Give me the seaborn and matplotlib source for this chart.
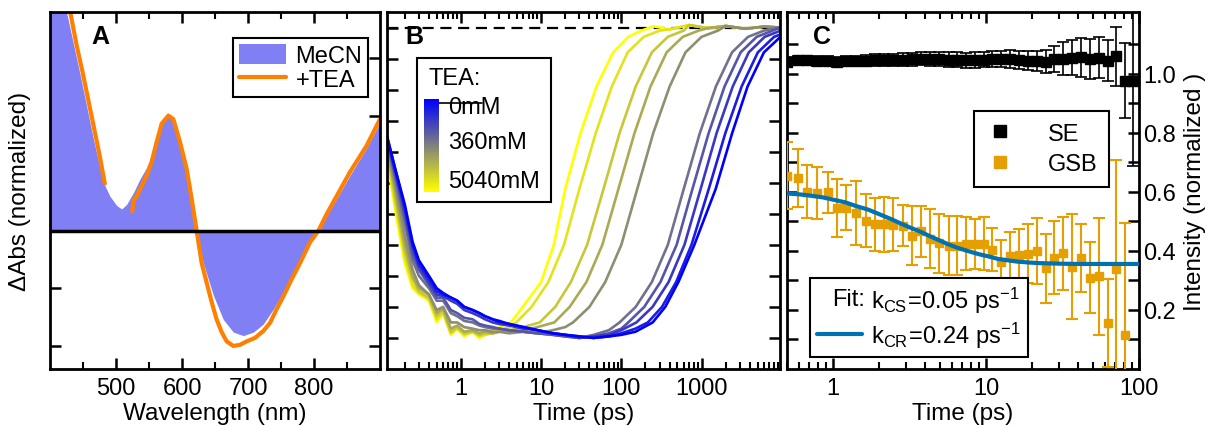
import numpy as np
import pandas as pd
import matplotlib
matplotlib.use("Agg")
import matplotlib.pyplot as plt
import seaborn as sns
from matplotlib.colors import LinearSegmentedColormap
from matplotlib.legend_handler import HandlerBase
from matplotlib.text import Text
from matplotlib.lines import Line2D
from matplotlib.patches import Patch, Rectangle
from matplotlib.ticker import LogLocator, NullFormatter, FixedLocator

# ---------------- Panel A data ----------------
wl_mecn = [400, 410, 425, 445.5, 465.7, 480.8, 490.9, 501, 508.6, 516.2, 526.3, 536.4, 546.5, 554,
           561.6, 569.2, 576.8, 584.3, 591.9, 602, 612.1, 622.2, 632.3, 647.5, 662.6, 677.8, 692.9,
           708.1, 723.2, 738.4, 758.6, 778.8, 806.6, 829.3, 854.5, 879.8, 900]
abs_mecn = [2.3, 2.15, 1.90, 1.36, 0.80, 0.42, 0.30, 0.22, 0.19, 0.23, 0.33, 0.45, 0.55, 0.65,
            0.83, 0.94, 1.00, 0.97, 0.86, 0.62, 0.36, 0.0, -0.28, -0.56, -0.77, -0.88, -0.91,
            -0.88, -0.81, -0.68, -0.48, -0.25, 0.0, 0.23, 0.48, 0.72, 0.94]
wl_tea_1 = [430, 440, 450, 460, 470, 476, 483]
abs_tea_1 = [1.92, 1.62, 1.36, 1.08, 0.80, 0.63, 0.41]
wl_tea_2 = [524.7, 526.3, 531.3, 538.9, 546.5, 554, 561.6, 569.2, 579.3, 586.9, 597, 607, 614.6,
            622.2, 629.8, 637.4, 645, 652.5, 660.1, 667.7, 677.8, 687.9, 698, 710.6, 723.2, 733.3,
            743.4, 753.5, 763.6, 778.8, 793.9, 806.6, 819.2, 829.3, 854.5, 879.8, 900]
abs_tea_2 = [0.17, 0.26, 0.30, 0.39, 0.48, 0.60, 0.77, 0.93, 1.00, 0.97, 0.77, 0.54, 0.28,
             0.0, -0.28, -0.45, -0.62, -0.77, -0.88, -0.96, -1.00, -0.99, -0.96, -0.93, -0.87, -0.80,
             -0.68, -0.57, -0.45, -0.28, -0.10, 0.0, 0.145, 0.25, 0.51, 0.74, 0.97]

# ---------------- Panel B data ----------------
tea_labels = ["0mM", "360mM", "5040mM"]
b_pre_t = [0.12, 0.15, 0.2, 0.25, 0.3, 0.4, 0.5, 0.6, 0.75, 0.9, 1.1, 1.4, 1.7, 2.0, 2.5, 3.0,
           4, 6, 9, 14, 20, 30, 45, 70, 100, 150]
b_pre_v = [
    [-0.42, -0.58, -0.76, -0.84, -0.86, -0.88, -0.95, -0.92, -0.99, -0.97, -0.995, -0.98, -1.0, -0.99, -0.98, -0.965],
    [-0.41, -0.56, -0.74, -0.83, -0.855, -0.875, -0.94, -0.92, -0.985, -0.97, -0.99, -0.98, -0.995, -0.99, -0.985, -0.975, -0.965],
    [-0.40, -0.54, -0.72, -0.81, -0.85, -0.87, -0.93, -0.91, -0.98, -0.965, -0.985, -0.98, -0.99, -0.985, -0.985, -0.98, -0.975, -0.965],
    [-0.39, -0.52, -0.70, -0.80, -0.84, -0.86, -0.92, -0.905, -0.97, -0.96, -0.98, -0.975, -0.985, -0.98, -0.985, -0.98, -0.98, -0.975, -0.965],
    [-0.38, -0.50, -0.67, -0.78, -0.83, -0.86, -0.91, -0.90, -0.95, -0.95, -0.965, -0.97, -0.975, -0.975, -0.98, -0.98, -0.985, -0.98, -0.985, -0.975, -0.965],
    [-0.37, -0.48, -0.63, -0.75, -0.80, -0.84, -0.88, -0.88, -0.92, -0.93, -0.945, -0.95, -0.96, -0.965, -0.97, -0.97, -0.975, -0.98, -0.985, -0.99, -0.995, -1.0, -0.99, -0.975],
    [-0.36, -0.47, -0.61, -0.73, -0.78, -0.83, -0.87, -0.87, -0.91, -0.92, -0.935, -0.94, -0.955, -0.96, -0.965, -0.97, -0.975, -0.98, -0.985, -0.99, -0.995, -1.0, -0.995, -0.985, -0.97],
    [-0.36, -0.46, -0.59, -0.71, -0.77, -0.82, -0.86, -0.865, -0.88, -0.89, -0.91, -0.92, -0.93, -0.94, -0.95, -0.955, -0.96, -0.97, -0.975, -0.985, -0.99, -1.0, -0.995, -0.99, -0.975],
    [-0.35, -0.45, -0.58, -0.70, -0.76, -0.81, -0.85, -0.86, -0.87, -0.88, -0.90, -0.91, -0.92, -0.93, -0.94, -0.95, -0.955, -0.965, -0.975, -0.985, -0.99, -0.995, -1.0, -0.995, -0.985, -0.97],
    [-0.35, -0.45, -0.57, -0.69, -0.75, -0.80, -0.84, -0.855, -0.87, -0.88, -0.90, -0.91, -0.92, -0.93, -0.94, -0.945, -0.955, -0.965, -0.975, -0.985, -0.99, -0.995, -1.0, -0.995, -0.99, -0.98],
]
b_rise_levels = [-0.95, -0.90, -0.82, -0.70, -0.52, -0.34, -0.19, -0.08, -0.03, -0.01]
b_rise_t = [
    [4.2, 5.9, 10, 14.4, 20, 31, 49, 79, 122, 178],
    [4.9, 7.6, 12.3, 19.3, 30, 48, 76, 120, 190, 300],
    [9.6, 15, 23.5, 37.5, 60, 95, 151, 240, 380, 600],
    [14.6, 22.7, 36.7, 58, 92, 146, 231, 367, 583, 918],
    [25, 40, 63, 100, 158, 250, 400, 630, 1000, 1600],
    [95, 151, 240, 380, 600, 952, 1509, 2397, 3800, 6000],
    [122, 193, 307, 489, 770, 1227, 1934, 3068, 4867, 7700],
    [154, 245, 388, 612, 974, 1540, 2448, 3876, 6120, 9690],
    [214, 321, 482, 749, 1230, 1980, 3157, 5029, 8025, 12840],
    [246, 353, 514, 813, 1500, 2408, 3745, 5992, 9630, 14980],
]
b_tail_t = [250, 400, 700, 1200, 2000, 3500, 6000, 9500]
b_tail_v = [0.004, -0.006, 0.008, -0.002, 0.005, -0.004, 0.003, 0.0]

# ---------------- Panel C data ----------------
c_t = [0.499, 0.589, 0.68, 0.79, 0.92, 1.06, 1.22, 1.41, 1.64, 1.88, 2.15, 2.48, 2.85, 3.30, 3.76,
       4.31, 4.96, 5.69, 6.44, 7.38, 8.5, 9.64, 11.0, 12.5, 14.4, 16.4, 18.8, 21.4, 24.6, 28.0,
       32.0, 36.6, 41.8, 47.8, 54.7, 62.5, 71.0, 81.4]
gsb_v = [0.655, 0.647, 0.601, 0.597, 0.599, 0.545, 0.546, 0.529, 0.503, 0.490, 0.490, 0.489,
         0.486, 0.452, 0.467, 0.441, 0.426, 0.418, 0.418, 0.424, 0.424, 0.425, 0.405, 0.364,
         0.384, 0.385, 0.390, 0.400, 0.341, 0.377, 0.392, 0.346, 0.377, 0.310, 0.314, 0.156,
         0.339, 0.115]
gsb_err = [0.113, 0.097, 0.090, 0.089, 0.070, 0.099, 0.076, 0.108, 0.090, 0.090, 0.093, 0.089,
           0.069, 0.100, 0.086, 0.100, 0.100, 0.100, 0.100, 0.090, 0.085, 0.090, 0.073, 0.072,
           0.082, 0.090, 0.100, 0.113, 0.116, 0.123, 0.123, 0.178, 0.115, 0.120, 0.198, 0.150,
           0.370, 0.380]
se_t = [0.499, 0.589, 0.68, 0.79, 0.92, 1.06, 1.22, 1.41, 1.64, 1.88, 2.15, 2.48, 2.85, 3.30, 3.76,
        4.31, 4.96, 5.69, 6.44, 7.38, 8.5, 9.64, 11.0, 12.5, 14.4, 16.4, 18.8, 21.4, 24.6, 28.0,
        32.0, 36.6, 41.8, 47.8, 54.7, 62.5, 71.0, 81.4, 92.0]
se_v = [1.042, 1.047, 1.047, 1.044, 1.045, 1.042, 1.043, 1.044, 1.045, 1.047, 1.048, 1.047, 1.049,
        1.050, 1.051, 1.050, 1.050, 1.049, 1.048, 1.046, 1.047, 1.048, 1.050, 1.051, 1.050, 1.048,
        1.045, 1.044, 1.042, 1.050, 1.052, 1.055, 1.056, 1.052, 1.055, 1.045, 1.060, 0.977, 0.977]
se_err = [0.015, 0.015, 0.015, 0.016, 0.016, 0.017, 0.017, 0.018, 0.018, 0.019, 0.020, 0.020, 0.021,
          0.022, 0.022, 0.023, 0.024, 0.024, 0.025, 0.025, 0.026, 0.026, 0.027, 0.028, 0.030, 0.030,
          0.032, 0.035, 0.040, 0.045, 0.055, 0.060, 0.065, 0.068, 0.070, 0.070, 0.100, 0.127, 0.290]
fit_t = [0.5, 0.6, 0.7, 0.85, 1.0, 1.2, 1.4, 1.7, 2.0, 2.4, 2.8, 3.2, 3.7, 4.3, 5.0, 5.7, 6.5, 7.7,
         9.0, 10.5, 12, 14, 16, 19, 22, 26, 30, 40, 50, 70, 100]
fit_v = [0.595, 0.592, 0.588, 0.582, 0.574, 0.565, 0.553, 0.540, 0.525, 0.508, 0.492, 0.479,
         0.466, 0.450, 0.435, 0.422, 0.411, 0.399, 0.389, 0.381, 0.373, 0.368, 0.364, 0.361,
         0.359, 0.358, 0.357, 0.356, 0.356, 0.356, 0.356]

# ---------------- style ----------------
sns.set_theme(style="ticks")
plt.rcParams["font.family"] = ["Liberation Sans", "DejaVu Sans"]
plt.rcParams["mathtext.fontset"] = "custom"
plt.rcParams["mathtext.rm"] = "Liberation Sans"
plt.rcParams["mathtext.it"] = "Liberation Sans:italic"
plt.rcParams["axes.linewidth"] = 2.0
plt.rcParams["axes.edgecolor"] = "black"
for k in ["text.color", "axes.labelcolor", "xtick.color", "ytick.color",
          "xtick.labelcolor", "ytick.labelcolor"]:
    plt.rcParams[k] = "black"

TICK_FS = 17
LAB_FS = 17.5
LEG_FS = 17

fig = plt.figure(figsize=(12.13, 4.27), dpi=100)
W, H = 1213.0, 427.0
def box(l, r, t, b):
    return [l / W, (H - b) / H, (r - l) / W, (b - t) / H]

axA = fig.add_axes(box(50, 380, 13, 370))
axB = fig.add_axes(box(387, 780, 13, 370))
axC = fig.add_axes(box(787, 1139, 13, 370))

def style_ticks(ax):
    ax.tick_params(which="both", direction="in", top=True, right=True, color="black",
                   labelsize=TICK_FS, labelcolor="black", pad=6)
    ax.tick_params(which="major", length=8, width=1.8)
    ax.tick_params(which="minor", length=5, width=1.5)

# ---------------- Panel A ----------------
fill_col = "#8080f4"
orange = "#ff8000"
axA.fill_between(wl_mecn, abs_mecn, 0, color=fill_col, lw=0, label="MeCN")
dfA1 = pd.DataFrame({"wl": wl_tea_1, "a": abs_tea_1})
dfA2 = pd.DataFrame({"wl": wl_tea_2, "a": abs_tea_2})
sns.lineplot(data=dfA1, x="wl", y="a", ax=axA, color=orange, lw=3, sort=False, estimator=None)
sns.lineplot(data=dfA2, x="wl", y="a", ax=axA, color=orange, lw=3, sort=False, estimator=None)
axA.axhline(0, color="black", lw=2.5, zorder=3)
axA.set_xlim(400, 900)
axA.set_ylim(-1.2, 1.9)
axA.set_xticks([500, 600, 700, 800])
axA.xaxis.set_minor_locator(FixedLocator([450, 550, 650, 750, 850]))
axA.set_yticks([-1.0, -0.5, 0, 0.5, 1.0, 1.5])
axA.set_yticklabels([])
style_ticks(axA)
axA.set_xlabel("Wavelength (nm)", fontsize=LAB_FS, labelpad=2)
axA.set_ylabel("ΔAbs (normalized)", fontsize=LAB_FS, labelpad=8)
axA.text(0.152, 0.933, "A", transform=axA.transAxes, fontsize=18, fontweight="bold",
         ha="center", va="center")
hA = [Patch(facecolor=fill_col, edgecolor="none"), Line2D([], [], color=orange, lw=3)]
legA = axA.legend(hA, ["MeCN", "+TEA"], loc="upper right", bbox_to_anchor=(0.964, 0.927),
                  borderaxespad=0, frameon=True, fancybox=False, fontsize=LEG_FS,
                  handlelength=2.0, handleheight=0.9, handletextpad=0.4, labelspacing=0.05,
                  borderpad=0.25)
legA.get_frame().set_edgecolor("black")
legA.get_frame().set_linewidth(1.5)
legA.get_frame().set_alpha(1)

# ---------------- Panel B ----------------
cmap = LinearSegmentedColormap.from_list("by", ["#0000ff", "#808080", "#ffff00"])
rows = []
for i in range(len(b_rise_t)):
    rt = b_rise_t[i]
    pre_v = b_pre_v[i]
    ts = [t for t in b_pre_t[:len(pre_v)] if t < rt[0]]
    vs = pre_v[:len(ts)]
    ts = ts + rt
    vs = vs + b_rise_levels
    for tt, vv in zip(b_tail_t, b_tail_v):
        if tt > rt[-1]:
            ts.append(tt)
            vs.append(vv)
    for tt, vv in zip(ts, vs):
        rows.append({"t": tt, "v": vv, "curve": i})
dfB = pd.DataFrame(rows)
n_curves = len(b_rise_t)
palette = [cmap(1 - i / (n_curves - 1)) for i in range(n_curves)]
sns.lineplot(data=dfB, x="t", y="v", hue="curve", palette=palette, ax=axB, lw=1.9,
             sort=False, estimator=None, legend=False)
axB.axhline(0, color="black", lw=1.6, ls=(0, (5, 3)), zorder=1)
axB.set_xscale("log")
axB.set_xlim(0.12, 9500)
axB.set_ylim(-1.1, 0.05)
axB.set_xticks([1, 10, 100, 1000])
axB.set_xticklabels(["1", "10", "100", "1000"])
axB.xaxis.set_minor_locator(LogLocator(base=10, subs=np.arange(2, 10), numticks=20))
axB.xaxis.set_minor_formatter(NullFormatter())
axB.set_yticks(np.arange(-1.0, 0.01, 0.1))
axB.set_yticklabels([])
style_ticks(axB)
axB.set_xlabel("Time (ps)", fontsize=LAB_FS, labelpad=2)
axB.set_ylabel("")
axB.text(0.069, 0.933, "B", transform=axB.transAxes, fontsize=18, fontweight="bold",
         ha="center", va="center")
# gradient legend
axB.add_patch(Rectangle((0.0763, 0.468), 0.341, 0.403, transform=axB.transAxes,
                        facecolor="white", edgecolor="black", lw=1.5, zorder=5))
axB.text(0.105, 0.815, "TEA:", transform=axB.transAxes, fontsize=LEG_FS, ha="left",
         va="center", zorder=6)
axB.plot([0.105, 0.243], [0.7445, 0.7445], transform=axB.transAxes, color="black", lw=1.2,
         zorder=6)
for lab, yy in zip(tea_labels, [0.734, 0.636, 0.527]):
    axB.text(0.155, yy, lab, transform=axB.transAxes, fontsize=LEG_FS, ha="left",
             va="center", zorder=6)
axG = fig.add_axes(box(424, 439, 100, 193))
axG.imshow(np.linspace(0, 1, 100).reshape(-1, 1), aspect="auto", cmap=cmap,
           interpolation="bilinear")
axG.set_axis_off()

# ---------------- Panel C ----------------
gsb_col = "#e69f00"
fit_col = "#0072b2"
axC.errorbar(c_t, gsb_v, yerr=gsb_err, fmt="s", color=gsb_col, ms=5.5, elinewidth=1.5,
             capsize=4, capthick=1.5, zorder=3)
axC.errorbar(se_t, se_v, yerr=se_err, fmt="s", color="black", ms=6.5, elinewidth=1.2,
             capsize=4, capthick=1.2, zorder=3)
dfC = pd.DataFrame({"t": fit_t, "v": fit_v})
sns.lineplot(data=dfC, x="t", y="v", ax=axC, color=fit_col, lw=3, sort=False,
             estimator=None, zorder=4)
axC.set_xscale("log")
axC.set_xlim(0.5, 100)
axC.set_ylim(0.0, 1.21)
axC.set_xticks([1, 10, 100])
axC.set_xticklabels(["1", "10", "100"])
axC.xaxis.set_minor_locator(LogLocator(base=10, subs=np.arange(2, 10), numticks=20))
axC.xaxis.set_minor_formatter(NullFormatter())
yt = np.round(np.arange(0.1, 1.15, 0.1), 1)
axC.set_yticks(yt)
axC.set_yticklabels(["%.1f" % v if round(v * 10) % 2 == 0 else "" for v in yt])
style_ticks(axC)
axC.tick_params(axis="y", labelleft=False, labelright=True, pad=3)
axC.yaxis.set_label_position("right")
axC.set_ylabel("Intensity (normalized )", fontsize=LAB_FS, labelpad=6)
axC.set_xlabel("Time (ps)", fontsize=LAB_FS, labelpad=2)
axC.text(0.1, 0.933, "C", transform=axC.transAxes, fontsize=18, fontweight="bold",
         ha="center", va="center")

hC1 = [Line2D([], [], ls="none", marker="s", color="black", ms=8),
       Line2D([], [], ls="none", marker="s", color=gsb_col, ms=8)]
legC1 = axC.legend(hC1, ["SE", "GSB"], loc="upper right", bbox_to_anchor=(0.915, 0.723),
                   borderaxespad=0, frameon=True, fancybox=False, fontsize=LEG_FS,
                   handlelength=1.2, handletextpad=1.4, labelspacing=0.35, borderpad=0.5)
legC1.get_frame().set_edgecolor("black")
legC1.get_frame().set_linewidth(1.5)
legC1.get_frame().set_alpha(1)
axC.add_artist(legC1)


class FitTextHandler(HandlerBase):
    def create_artists(self, legend, orig_handle, xdescent, ydescent, width, height,
                       fontsize, trans):
        t = Text(width - xdescent + 2, height / 2 - ydescent, "Fit:", ha="right",
                 va="center", fontsize=fontsize, transform=trans, color="black")
        return [t]


class FitDummy:
    pass


hC2 = [FitDummy(), Line2D([], [], color=fit_col, lw=3)]
labC2 = [r"$\mathregular{k_{CS}\!=\!0.05\ ps^{-1}}$", r"$\mathregular{k_{CR}\!=\!0.24\ ps^{-1}}$"]
legC2 = axC.legend(hC2, labC2, loc="lower left", bbox_to_anchor=(0.065, 0.034),
                   borderaxespad=0, frameon=True, fancybox=False, fontsize=LEG_FS,
                   handlelength=1.9, handletextpad=0.4, labelspacing=0.2, borderpad=0.3,
                   handler_map={FitDummy: FitTextHandler()})
legC2.get_frame().set_edgecolor("black")
legC2.get_frame().set_linewidth(1.5)
legC2.get_frame().set_alpha(1)

fig.savefig("out.png", dpi=100)
